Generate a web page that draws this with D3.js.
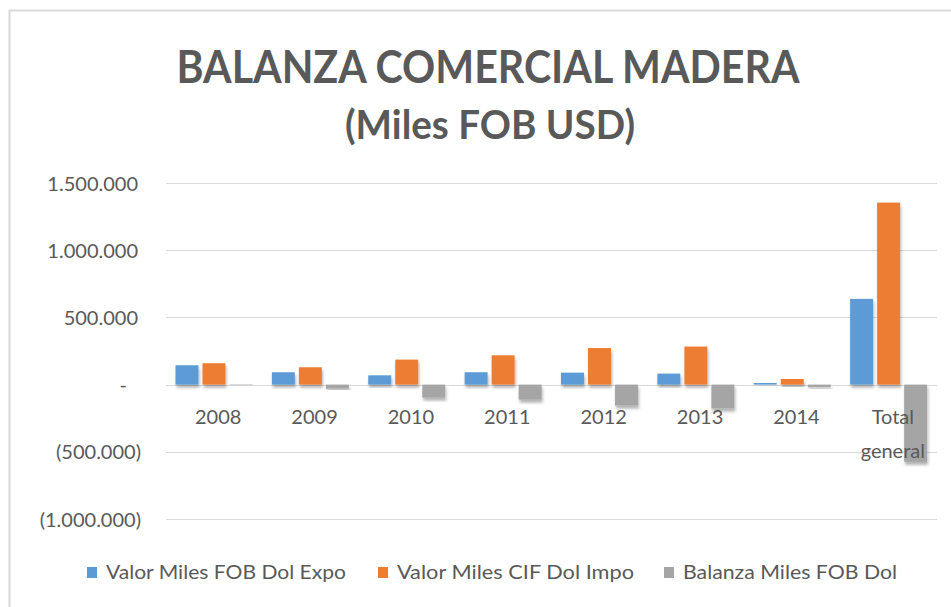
<!DOCTYPE html>
<html>
<head>
<meta charset="utf-8">
<script src="https://cdn.jsdelivr.net/npm/d3@7"></script>
<style>
  body { margin: 0; background: #fff; }
  text { font-family: Lato, "Open Sans", sans-serif; fill: #595959; }
</style>
</head>
<body>
<svg id="canvas"></svg>
<script>
let categories = ['2008', '2009', '2010', '2011', '2012', '2013', '2014', 'Total general'];
let seriesNames = ['Valor Miles FOB Dol Expo', 'Valor Miles CIF Dol Impo', 'Balanza Miles FOB Dol'];
let expo = [144000, 92000, 69000, 92000, 89000, 82000, 12000, 638000];
let impo = [159000, 129000, 186000, 218000, 272000, 283000, 42000, 1354000];
let balanza = [-4000, -30000, -97000, -112000, -156000, -178000, -20000, -575000];
let yTicks = [-1000000, -500000, 0, 500000, 1000000, 1500000];

let colors = ['#5B9BD5', '#ED7D31', '#A5A5A5'];

let width = 951;
let height = 607;

let canvas = d3.select('#canvas')
  .attr('width', width)
  .attr('height', height);

// shadow like the excel bars
let defs = canvas.append('defs');
defs.append('filter')
  .attr('id', 'shadow')
  .attr('x', '-30%').attr('y', '-30%')
  .attr('width', '160%').attr('height', '160%')
  .append('feDropShadow')
  .attr('dx', 1).attr('dy', 3)
  .attr('stdDeviation', 1.5)
  .attr('flood-color', '#000')
  .attr('flood-opacity', 0.3);

// chart frame
canvas.append('rect')
  .attr('x', 9.5).attr('y', 10.5)
  .attr('width', width + 20).attr('height', height + 20)
  .attr('fill', 'none')
  .attr('stroke', '#d9d9d9')
  .attr('stroke-width', 2);

let xScale = d3.scaleBand()
  .domain(categories)
  .range([166, 937])
  .padding(0);

let xInner = d3.scaleBand()
  .domain(seriesNames)
  .range([9.5, 86.5])
  .paddingInner(0.15);

let yScale = d3.scaleLinear()
  .domain([-1000000, 1500000])
  .range([519, 183]);

// gridlines
canvas.append('g')
  .selectAll('line')
  .data(yTicks)
  .enter()
  .append('line')
  .attr('x1', 166).attr('x2', 937)
  .attr('y1', (d) => Math.round(yScale(d)) + 0.5)
  .attr('y2', (d) => Math.round(yScale(d)) + 0.5)
  .attr('stroke', '#d9d9d9')
  .attr('stroke-width', 1);

// y axis labels (accounting style)
let fmt = d3.formatLocale({ decimal: ',', thousands: '.', grouping: [3], currency: ['', ''] }).format(',.0f');
let yAxis = d3.axisLeft(yScale)
  .tickValues(yTicks)
  .tickSize(0)
  .tickFormat((d) => {
    if (d === 0) return '-';
    if (d < 0) return '(' + fmt(-d) + ')';
    return fmt(d);
  });

let yG = canvas.append('g')
  .attr('transform', 'translate(0,0)')
  .call(yAxis);
yG.select('.domain').remove();
yG.selectAll('text')
  .attr('x', (d) => d < 0 ? 141 : (d === 0 ? 127 : 138))
  .attr('dy', '0.35em')
  .style('font-size', '20px')
  .style('font-family', 'Lato, sans-serif')
  .attr('fill', '#595959');

// bars
let rows = categories.map((c, i) => ({ cat: c, vals: [expo[i], impo[i], balanza[i]] }));

let groups = canvas.append('g')
  .selectAll('g')
  .data(rows)
  .enter()
  .append('g')
  .attr('transform', (d) => 'translate(' + xScale(d.cat) + ',0)');

groups.selectAll('rect')
  .data((d) => d.vals.map((v, j) => ({ name: seriesNames[j], value: v, idx: j })))
  .enter()
  .append('rect')
  .attr('x', (d) => xInner(d.name))
  .attr('width', xInner.bandwidth())
  .attr('y', (d) => yScale(Math.max(0, d.value)))
  .attr('height', (d) => Math.abs(yScale(d.value) - yScale(0)))
  .attr('fill', (d) => colors[d.idx])
  .attr('filter', 'url(#shadow)');

// category labels
let xAxis = canvas.append('g');
categories.forEach((c) => {
  let words = c.split(' ');
  let t = xAxis.append('text')
    .attr('x', xScale(c) + xScale.bandwidth() / 2 + 4)
    .attr('y', 424)
    .attr('text-anchor', 'middle')
    .style('font-size', '20px');
  words.forEach((w, k) => {
    t.append('tspan')
      .attr('x', xScale(c) + xScale.bandwidth() / 2 + 4)
      .attr('dy', k === 0 ? 0 : 34)
      .text(w);
  });
});

// title
canvas.append('text')
  .attr('x', 488)
  .attr('y', 83)
  .attr('text-anchor', 'middle')
  .attr('textLength', 623)
  .attr('lengthAdjust', 'spacingAndGlyphs')
  .style('font-size', '46px')
  .style('font-weight', 'bold')
  .text('BALANZA COMERCIAL MADERA');

canvas.append('text')
  .attr('x', 490)
  .attr('y', 139)
  .attr('text-anchor', 'middle')
  .attr('textLength', 290)
  .attr('lengthAdjust', 'spacingAndGlyphs')
  .style('font-size', '40px')
  .style('font-weight', 'bold')
  .text('(Miles FOB USD)');

// legend
let legendX = [87, 378, 664];
let legendW = [240, 237, 214];
let legend = canvas.append('g');
seriesNames.forEach((n, i) => {
  legend.append('rect')
    .attr('x', legendX[i])
    .attr('y', 567)
    .attr('width', 10)
    .attr('height', 11)
    .attr('fill', colors[i]);
  legend.append('text')
    .attr('x', legendX[i] + 19)
    .attr('y', 579)
    .attr('textLength', legendW[i])
    .attr('lengthAdjust', 'spacingAndGlyphs')
    .style('font-size', '19px')
    .text(n);
});
</script>
</body>
</html>
